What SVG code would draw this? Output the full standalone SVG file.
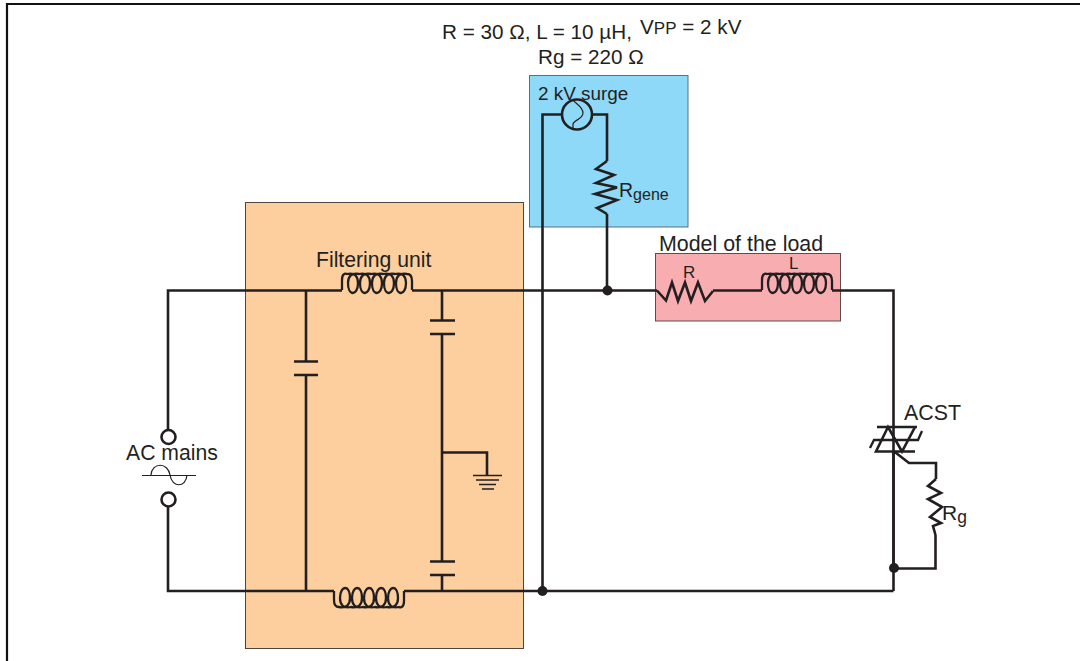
<svg xmlns="http://www.w3.org/2000/svg" width="1080" height="661" viewBox="0 0 1080 661">
<style>
text{font-family:"Liberation Sans",Arial,sans-serif;fill:#231f20}
.w{fill:none;stroke:#231f20;stroke-width:2.6;stroke-linejoin:miter}
.c{fill:none;stroke:#231f20;stroke-width:2.3}
.t{fill:none;stroke:#231f20;stroke-width:1.2}
.d{fill:#231f20}
</style>
<defs>
<path id="coil" class="c" d="M342 290V280C342 274 345 273 347 274c8,-2 11,3 11,9c0,7 -3,10 -5,10c-3,0 -5,-4 -5,-10c0,-6 3,-10.500 11,-9c8,-2 11,3 11,9c0,7 -3,10 -5,10c-3,0 -5,-4 -5,-10c0,-6 3,-10.500 11,-9c8,-2 11,3 11,9c0,7 -3,10 -5,10c-3,0 -5,-4 -5,-10c0,-6 3,-10.500 11,-9c8,-2 11,3 11,9c0,7 -3,10 -5,10c-3,0 -5,-4 -5,-10c0,-6 3,-10.500 11,-9c8,-2 11,3 11,9c0,7 -3,10 -5,10c-3,0 -5,-4 -5,-10c0,-6 3,-10.500 11,-9C411 274 412 277 412 281V290"/>
</defs>
<path id="frame" d="M7 661V4H1080" fill="none" stroke="#111" stroke-width="2.200"/>
<g id="filtering-unit">
<rect x="245.500" y="202.500" width="278" height="446" fill="#fdcf9e" stroke="#4d4540" stroke-width="1"/>
<text x="316" y="267" font-size="21.200">Filtering unit</text>
</g>
<g id="surge-generator">
<rect x="529.500" y="75.500" width="158.500" height="151.500" fill="#8ed8f8" stroke="#58707c" stroke-width="1"/>
<text x="538" y="100" font-size="18.900">2 kV surge</text>
</g>
<g id="load-model">
<rect x="655.500" y="253.500" width="185" height="67.500" fill="#f8aeb0" stroke="#5f4a4c" stroke-width="1"/>
<text x="659" y="251" font-size="21.400">Model of the load</text>
<text x="683" y="278" font-size="17">R</text>
<text x="789" y="269" font-size="17">L</text>
</g>
<g id="connectors">
<path class="w" d="M168 430V290.500H342M412 290.500H657M713 290.500H762M832 290.500H893.500V591M168 506V591H334M404 591H893.500"/>
<path class="w" d="M306 290.500V361M306 375V591M442 290.500V321M442 334V561M442 575V591M442 452.500H487V475"/>
<path class="w" d="M542.500 591V114.500H562M592 114.500H607V161M607 214V290.500"/>
<path class="w" d="M893.500 451V568.500H935.500V535M893.500 451L909 463H936V479"/>
</g>
<g id="cap-1"><path class="w" d="M294 361.500H318M294 375H318"/></g>
<g id="cap-2"><path class="w" d="M430 320.500H455M430 334H455"/></g>
<g id="cap-3"><path class="w" d="M430 561.500H455M430 575H455"/></g>
<g id="ground"><path d="M473 475.500H502M476 480H499M479 484.500H496M482 489H494" fill="none" stroke="#231f20" stroke-width="1.300"/></g>
<g id="inductor-top"><use href="#coil"/></g>
<g id="inductor-bottom"><use href="#coil" transform="translate(746,881) rotate(180)"/></g>
<g id="inductor-load"><use href="#coil" transform="translate(420,0)"/></g>
<g id="r-load"><path class="w" d="M657 290.500L666 300.500L672 282.500L678 301L685 282.500L691 301L698 282.500L705 301L713 291"/></g>
<g id="r-gene">
<path class="w" d="M607 161L596 169L614 175L596 183L617 187.500L595 194L617 200L597 208L607 214"/>
<text x="619" y="197" font-size="19.500">R<tspan font-size="16" dy="3">gene</tspan></text>
</g>
<g id="source">
<circle cx="577" cy="114.500" r="15" fill="none" stroke="#231f20" stroke-width="2.600"/>
<path class="t" d="M573 100C576 104 583 107 583 113C583 119 574 120 573 124V129"/>
</g>
<g id="ac-mains">
<circle cx="168.500" cy="437" r="7" fill="none" stroke="#231f20" stroke-width="2.600"/>
<circle cx="168.500" cy="499.500" r="7" fill="none" stroke="#231f20" stroke-width="2.600"/>
<path class="t" d="M142 475.500H196M151 475C152 462 168 462 170 475C172 488 186 488 187 475"/>
<text x="126" y="460" font-size="21.200">AC mains</text>
</g>
<g id="acst">
<path class="w" d="M877 427H917M877 451.500H915M888 427L876 451.500H902ZM888 427H915L902 451.500Z"/>
<path class="c" d="M870 448L874 440H918L922 431" stroke-width="1.800"/>
<text x="904" y="420" font-size="21.400">ACST</text>
</g>
<g id="r-g">
<path class="w" d="M936 479L928 486L941 493L928 499L942 507L930 517L941 523L933 526L935.500 535"/>
<text x="942" y="520" font-size="21">R<tspan font-size="17.500" dy="3">g</tspan></text>
</g>
<g id="junctions">
<circle class="d" cx="607.500" cy="290.500" r="5"/>
<circle class="d" cx="542.500" cy="591" r="5"/>
<circle class="d" cx="894" cy="568" r="5"/>
</g>
<g id="parameters">
<text x="442" y="38.500" font-size="20.700">R = 30 Ω, L = 10 µH,</text>
<text x="640" y="33.500" font-size="20.700">V<tspan font-size="17">PP</tspan> = 2 kV</text>
<text x="538" y="63.500" font-size="20.700">Rg = 220 Ω</text>
</g>
</svg>
